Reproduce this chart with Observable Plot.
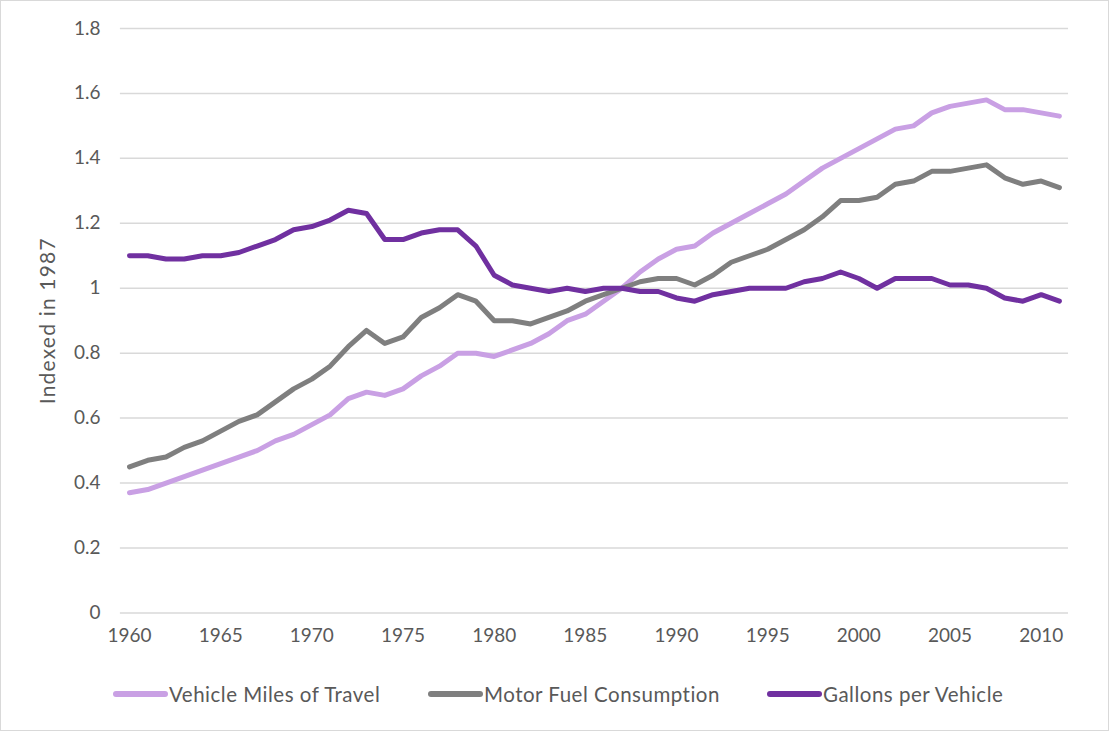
<!DOCTYPE html>
<html>
<head>
<meta charset="utf-8">
<script src="https://cdn.jsdelivr.net/npm/d3@7"></script>
<script src="https://cdn.jsdelivr.net/npm/@observablehq/plot@0.6"></script>
<style>
  html, body { margin: 0; padding: 0; background: #fff; }
  #wrap { position: relative; width: 1109px; height: 731px; box-sizing: border-box; border: 1px solid #D9D9D9; overflow: hidden; font-family: Lato, "Open Sans", sans-serif; }
  #chart { position: absolute; left: -1px; top: -1px; }
  #chart g[aria-label="text"] text { letter-spacing: 1.2px; }
  #legend { position: absolute; top: 679px; left: 0; width: 1109px; height: 28px; font-size: 20.5px; letter-spacing: 0.5px; color: #595959; }
  .item { position: absolute; top: 0; display: flex; align-items: center; height: 28px; white-space: nowrap; }
  .sw { display: inline-block; width: 55px; height: 6px; border-radius: 3px; margin-right: 1px; }
</style>
</head>
<body>
<div id="wrap">
  <div id="chart"></div>
  <div id="legend"></div>
</div>
<script>
const years = d3.range(1960, 2012);
const seriesNames = ["Vehicle Miles of Travel", "Motor Fuel Consumption", "Gallons per Vehicle"];
const seriesColors = ["#C9A0E4", "#7F7F7F", "#7030A0"];
const xTicks = [1960, 1965, 1970, 1975, 1980, 1985, 1990, 1995, 2000, 2005, 2010];
const yTicks = [0, 0.2, 0.4, 0.6, 0.8, 1.0, 1.2, 1.4, 1.6, 1.8];
const yLabel = "Indexed in 1987";

const vmt = [0.37, 0.38, 0.40, 0.42, 0.44, 0.46, 0.48, 0.50, 0.53, 0.55,
             0.58, 0.61, 0.66, 0.68, 0.67, 0.69, 0.73, 0.76, 0.80, 0.80,
             0.79, 0.81, 0.83, 0.86, 0.90, 0.92, 0.96, 1.00, 1.05, 1.09,
             1.12, 1.13, 1.17, 1.20, 1.23, 1.26, 1.29, 1.33, 1.37, 1.40,
             1.43, 1.46, 1.49, 1.50, 1.54, 1.56, 1.57, 1.58, 1.55, 1.55,
             1.54, 1.53];
const fuel = [0.45, 0.47, 0.48, 0.51, 0.53, 0.56, 0.59, 0.61, 0.65, 0.69,
              0.72, 0.76, 0.82, 0.87, 0.83, 0.85, 0.91, 0.94, 0.98, 0.96,
              0.90, 0.90, 0.89, 0.91, 0.93, 0.96, 0.98, 1.00, 1.02, 1.03,
              1.03, 1.01, 1.04, 1.08, 1.10, 1.12, 1.15, 1.18, 1.22, 1.27,
              1.27, 1.28, 1.32, 1.33, 1.36, 1.36, 1.37, 1.38, 1.34, 1.32,
              1.33, 1.31];
const gallons = [1.10, 1.10, 1.09, 1.09, 1.10, 1.10, 1.11, 1.13, 1.15, 1.18,
                 1.19, 1.21, 1.24, 1.23, 1.15, 1.15, 1.17, 1.18, 1.18, 1.13,
                 1.04, 1.01, 1.00, 0.99, 1.00, 0.99, 1.00, 1.00, 0.99, 0.99,
                 0.97, 0.96, 0.98, 0.99, 1.00, 1.00, 1.00, 1.02, 1.03, 1.05,
                 1.03, 1.00, 1.03, 1.03, 1.03, 1.01, 1.01, 1.00, 0.97, 0.96,
                 0.98, 0.96];

const seriesValues = [vmt, fuel, gallons];
const rows = [];
seriesNames.forEach((name, i) => {
  years.forEach((yr, j) => rows.push({series: name, year: yr, value: seriesValues[i][j]}));
});

const chart = Plot.plot({
  width: 1109,
  height: 660,
  marginLeft: 120,
  marginRight: 40,
  marginTop: 28,
  marginBottom: 47,
  style: {fontFamily: "Lato, 'Open Sans', sans-serif", fontSize: "19px", color: "#595959", background: "transparent"},
  x: {domain: [1959.5, 2011.5], ticks: xTicks, tickFormat: d => String(d), tickSize: 0, tickPadding: 16, label: null},
  y: {domain: [0, 1.8], ticks: yTicks, tickFormat: d => String(+d.toFixed(1)), tickSize: 0, tickPadding: 20, label: null},
  color: {domain: seriesNames, range: seriesColors},
  marks: [
    Plot.ruleY(yTicks, {stroke: "#D9D9D9", strokeWidth: 1.5}),
    Plot.line(rows, {x: "year", y: "value", z: "series", stroke: "series", strokeWidth: 5, strokeLinejoin: "round", strokeLinecap: "round"}),
    Plot.text([yLabel], {frameAnchor: "left", textAnchor: "middle", dx: -72, rotate: -90, text: d => d, fontSize: 21, fill: "#595959"})
  ]
});
document.getElementById("chart").appendChild(chart);

const legendPos = [112, 427, 766];
const legend = document.getElementById("legend");
seriesNames.forEach((name, i) => {
  const it = document.createElement("div");
  it.className = "item";
  it.style.left = legendPos[i] + "px";
  const sw = document.createElement("span");
  sw.className = "sw";
  sw.style.background = seriesColors[i];
  const tx = document.createElement("span");
  tx.textContent = name;
  it.appendChild(sw); it.appendChild(tx);
  legend.appendChild(it);
});
</script>
</body>
</html>
